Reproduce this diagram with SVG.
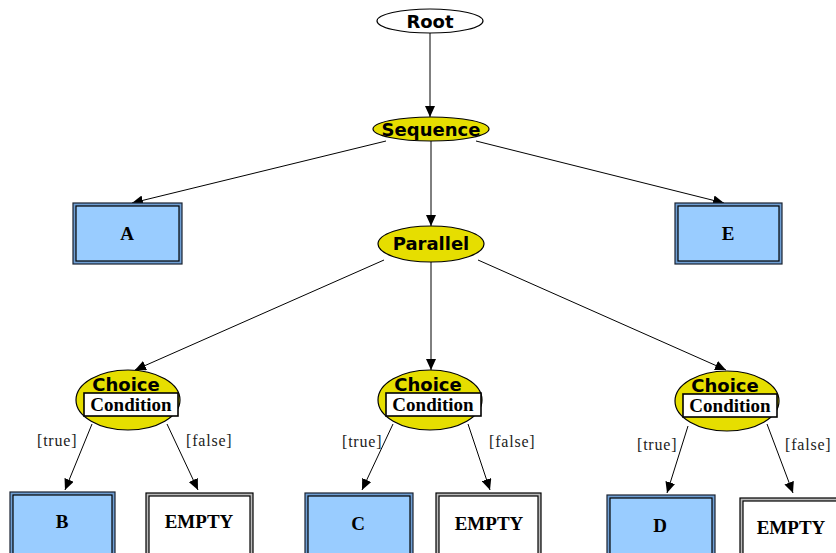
<svg xmlns="http://www.w3.org/2000/svg" width="836" height="553" viewBox="0 0 836 553">
  <style>
    .ell { stroke: #000; stroke-width: 1.2; }
    .ctl { fill: #e6de00; }
    .start { fill: #fff; }
    .lbl { font-family: "DejaVu Sans", Verdana, sans-serif; font-weight: bold; font-size: 18px; fill: #000; text-anchor: middle; }
    .act { font-family: "Liberation Serif", "Times New Roman", serif; font-weight: bold; font-size: 19px; fill: #000; text-anchor: middle; }
    .guard { font-family: "Liberation Serif", "Times New Roman", serif; font-size: 16px; letter-spacing: 0.8px; fill: #222; }
    .outer-b { fill: #6f9fd4; stroke: #1a2230; stroke-width: 1.2; }
    .inner-b { fill: #99ccff; stroke: #000; stroke-width: 1.2; }
    .outer-e { fill: #bbbbbb; stroke: #000; stroke-width: 1.2; }
    .inner-e { fill: #fff; stroke: #000; stroke-width: 1.2; }
    .cond { fill: #fff; stroke: #000; stroke-width: 1.6; }
    .edge { stroke: #000; stroke-width: 1; fill: none; marker-end: url(#arrow); }
  </style>
  <defs>
    <marker id="arrow" markerUnits="userSpaceOnUse" markerWidth="12" markerHeight="10" refX="11" refY="5" orient="auto">
      <path d="M0,0 L11,5 L0,10 z" fill="#000"/>
    </marker>
  </defs>

  <!-- connectors -->
  <g id="edges">
    <line class="edge" x1="430" y1="33" x2="430" y2="117"/>
    <line class="edge" x1="386" y1="141" x2="132" y2="203"/>
    <line class="edge" x1="431" y1="141" x2="431" y2="226"/>
    <line class="edge" x1="476" y1="141" x2="724" y2="203"/>
    <line class="edge" x1="384" y1="260" x2="135" y2="370"/>
    <line class="edge" x1="431" y1="262" x2="431" y2="370"/>
    <line class="edge" x1="478" y1="260" x2="726" y2="370"/>
    <line class="edge" x1="92" y1="424" x2="65" y2="490"/>
    <line class="edge" x1="167" y1="424" x2="198" y2="490"/>
    <line class="edge" x1="393" y1="424" x2="362" y2="490"/>
    <line class="edge" x1="468" y1="424" x2="490" y2="490"/>
    <line class="edge" x1="688" y1="426" x2="667" y2="493"/>
    <line class="edge" x1="767" y1="424" x2="793" y2="493"/>
  </g>

  <!-- guard labels -->
  <g id="guards">
    <text class="guard" x="37" y="446">[true]</text>
    <text class="guard" x="186" y="446">[false]</text>
    <text class="guard" x="342" y="447">[true]</text>
    <text class="guard" x="489" y="447">[false]</text>
    <text class="guard" x="637" y="450">[true]</text>
    <text class="guard" x="785" y="450">[false]</text>
  </g>

  <g id="root">
    <ellipse class="ell start" cx="430" cy="21" rx="53" ry="12"/>
    <text class="lbl" x="430" y="28">Root</text>
  </g>

  <g id="sequence">
    <ellipse class="ell ctl" cx="431" cy="129" rx="58" ry="12"/>
    <text class="lbl" x="431" y="136">Sequence</text>
  </g>

  <g id="a">
    <rect class="outer-b" x="73" y="203" width="109" height="61"/>
    <rect class="inner-b" x="76" y="206" width="103" height="55"/>
    <text class="act" x="127" y="240">A</text>
  </g>

  <g id="e">
    <rect class="outer-b" x="675" y="203" width="107" height="61"/>
    <rect class="inner-b" x="678" y="206" width="101" height="55"/>
    <text class="act" x="728" y="240">E</text>
  </g>

  <g id="parallel">
    <ellipse class="ell ctl" cx="431" cy="244" rx="53" ry="18"/>
    <text class="lbl" x="431" y="250">Parallel</text>
  </g>

  <g id="choice-1">
    <ellipse class="ell ctl" cx="128" cy="400" rx="52" ry="30"/>
    <text class="lbl" x="126" y="391">Choice</text>
    <rect class="cond" x="84" y="393" width="94" height="23"/>
    <text class="act" x="131" y="411">Condition</text>
  </g>

  <g id="choice-2">
    <ellipse class="ell ctl" cx="430" cy="400" rx="52" ry="30"/>
    <text class="lbl" x="428" y="391">Choice</text>
    <rect class="cond" x="386" y="393" width="95" height="23"/>
    <text class="act" x="433" y="411">Condition</text>
  </g>

  <g id="choice-3">
    <ellipse class="ell ctl" cx="727" cy="401" rx="52" ry="30"/>
    <text class="lbl" x="725" y="392">Choice</text>
    <rect class="cond" x="683" y="394" width="94" height="23"/>
    <text class="act" x="730" y="412">Condition</text>
  </g>

  <g id="b">
    <rect class="outer-b" x="10" y="492" width="105" height="66"/>
    <rect class="inner-b" x="13" y="495" width="99" height="60"/>
    <text class="act" x="62" y="528">B</text>
  </g>

  <g id="empty-1">
    <rect class="outer-e" x="146" y="493" width="107" height="66"/>
    <rect class="inner-e" x="149" y="496" width="101" height="60"/>
    <text class="act" x="199" y="528">EMPTY</text>
  </g>

  <g id="c">
    <rect class="outer-b" x="305" y="493" width="108" height="66"/>
    <rect class="inner-b" x="308" y="496" width="102" height="60"/>
    <text class="act" x="358" y="530">C</text>
  </g>

  <g id="empty-2">
    <rect class="outer-e" x="436" y="493" width="105" height="66"/>
    <rect class="inner-e" x="439" y="496" width="99" height="60"/>
    <text class="act" x="489" y="530">EMPTY</text>
  </g>

  <g id="d">
    <rect class="outer-b" x="607" y="495" width="108" height="66"/>
    <rect class="inner-b" x="610" y="498" width="102" height="60"/>
    <text class="act" x="660" y="532">D</text>
  </g>

  <g id="empty-3">
    <rect class="outer-e" x="740" y="498" width="105" height="66"/>
    <rect class="inner-e" x="743" y="501" width="99" height="60"/>
    <text class="act" x="791" y="534">EMPTY</text>
  </g>
</svg>
